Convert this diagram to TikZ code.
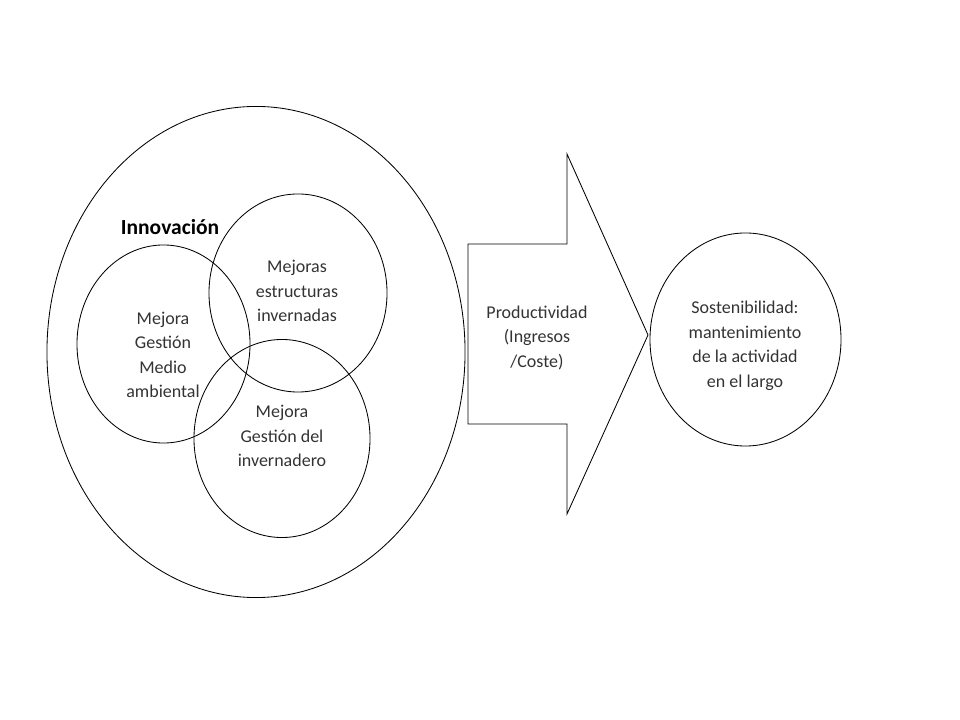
\documentclass[tikz,border=0pt]{standalone}
\usepackage{fontspec}
\setmainfont{Carlito}
\usepackage{tikz}
\usetikzlibrary{shapes.geometric}

\begin{document}
\begin{tikzpicture}[x=0.025cm, y=-0.025cm,
    bubble/.style={draw, ellipse, line width=.6pt, inner sep=0pt},
    txt/.style={align=center, text=black!80, font=\fontsize{12.8}{17.4}\selectfont}]
    \useasboundingbox (0, 0) rectangle (960, 720);
\node[bubble, minimum width=10.45cm, minimum height=12.275cm] (innov) at (256, 352) {};
\node[bubble, minimum width=4.325cm, minimum height=4.95cm] (medio) at (163.5, 344) {};
\node[bubble, minimum width=4.45cm, minimum height=4.95cm] (estruc) at (298, 293) {};
\node[bubble, minimum width=4.4cm, minimum height=4.95cm] (gestion) at (282, 438.5) {};
\node[bubble, minimum width=4.775cm, minimum height=5.325cm] (sosten) at (745.5, 339.5) {};
\draw[line width=.6pt] (468, 244) -- (567, 244) -- (567, 154) -- (648, 335)
    -- (567, 514) -- (567, 424) -- (468, 424) -- cycle;
\node[anchor=base, font=\fontsize{15.3}{18}\selectfont\bfseries] (innovtxt) at (170, 235) {Innovación};
\node[txt] (mediotxt) at (163, 355) {Mejora\\Gestión\\Medio\\ambiental};
\node[txt] (estructxt) at (297, 291) {Mejoras\\estructuras\\invernadas};
\node[txt] (gestiontxt) at (282, 436) {Mejora\\Gestión del\\invernadero};
\node[txt] (prodtxt) at (537, 338) {Productividad\\(Ingresos\\/Coste)};
\node[txt] (sostentxt) at (745, 346) {Sostenibilidad:\\mantenimiento\\de la actividad\\en el largo};
    \end{tikzpicture}
\end{document}
